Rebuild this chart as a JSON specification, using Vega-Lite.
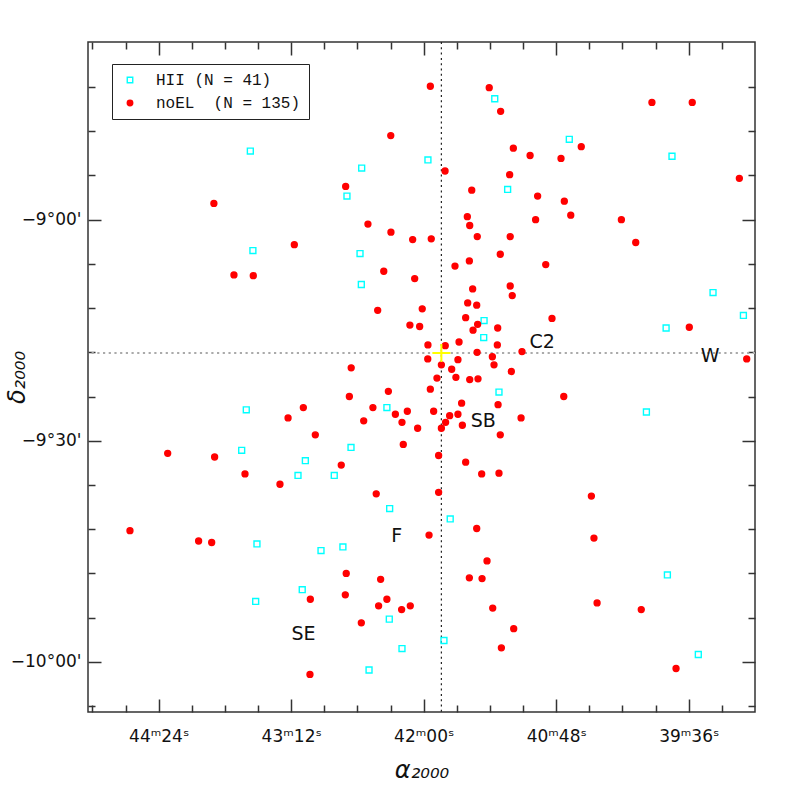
{
  "$schema": "https://vega.github.io/schema/vega-lite/v6.json",
  "width": 667,
  "height": 670,
  "autosize": {"type": "none"},
  "padding": {"left": 88, "top": 42, "right": 42, "bottom": 85},
  "background": "white",
  "config": {
    "view": {"stroke": "#333", "strokeWidth": 1.5},
    "axis": {"grid": false, "domain": false, "labelFont": "DejaVu Sans", "labelFontSize": 17, "labelColor": "#111", "tickColor": "#333", "tickWidth": 1.5, "titleColor": "#111"}
  },
  "resolve": {"axis": {"x": "independent", "y": "independent"}},
  "layer": [
    {
      "data": {"values": [{"ra": 2510.4}]},
      "mark": {"type": "rule", "color": "#222", "strokeWidth": 1.2, "strokeDash": [2, 3.3]},
      "encoding": {
        "x": {"field": "ra", "type": "quantitative", "scale": {"domain": [2340, 2702.4], "reverse": true, "nice": false, "zero": false},
          "axis": {"orient": "bottom", "values": [2358, 2394, 2412, 2430, 2466, 2484, 2502, 2538, 2556, 2574, 2610, 2628, 2646, 2682, 2700], "labels": false, "tickSize": -7, "title": null}}
      }
    },
    {
      "data": {"values": [{"dec": -558.1}]},
      "mark": {"type": "rule", "color": "#aaa", "strokeWidth": 2, "strokeDash": [2.2, 3.5]},
      "encoding": {
        "y": {"field": "dec", "type": "quantitative", "scale": {"domain": [-606.8, -515.9], "nice": false, "zero": false},
          "axis": {"orient": "left", "values": [-522, -528, -534, -546, -552, -558, -564, -576, -582, -588, -594, -606], "labels": false, "tickSize": -7, "title": null}}
      }
    },
    {
      "data": {"values": [
        {"class":"HII","ra":2614.2,"dec":-530.7},{"class":"HII","ra":2612.8,"dec":-544.2},{"class":"HII","ra":2481.4,"dec":-523.6},{"class":"HII","ra":2517.7,"dec":-531.9},
        {"class":"HII","ra":2553.7,"dec":-533.0},{"class":"HII","ra":2474.4,"dec":-535.9},{"class":"HII","ra":2561.7,"dec":-536.8},{"class":"HII","ra":2554.6,"dec":-544.6},
        {"class":"HII","ra":2440.9,"dec":-529.1},{"class":"HII","ra":2385.1,"dec":-531.4},{"class":"HII","ra":2616.4,"dec":-565.8},{"class":"HII","ra":2618.9,"dec":-571.3},
        {"class":"HII","ra":2584.3,"dec":-572.7},{"class":"HII","ra":2588.3,"dec":-574.7},{"class":"HII","ra":2553.9,"dec":-548.8},{"class":"HII","ra":2487.2,"dec":-553.7},
        {"class":"HII","ra":2487.4,"dec":-556.0},{"class":"HII","ra":2479.1,"dec":-563.4},{"class":"HII","ra":2540.0,"dec":-565.5},{"class":"HII","ra":2559.5,"dec":-570.9},
        {"class":"HII","ra":2568.6,"dec":-574.7},{"class":"HII","ra":2362.8,"dec":-549.9},{"class":"HII","ra":2346.3,"dec":-553.0},{"class":"HII","ra":2388.3,"dec":-554.7},
        {"class":"HII","ra":2399.0,"dec":-566.1},{"class":"HII","ra":2610.6,"dec":-584.0},{"class":"HII","ra":2586.0,"dec":-590.2},{"class":"HII","ra":2611.3,"dec":-591.8},
        {"class":"HII","ra":2538.5,"dec":-579.2},{"class":"HII","ra":2505.6,"dec":-580.6},{"class":"HII","ra":2575.8,"dec":-584.9},{"class":"HII","ra":2563.9,"dec":-584.4},
        {"class":"HII","ra":2538.7,"dec":-594.2},{"class":"HII","ra":2509.0,"dec":-597.1},{"class":"HII","ra":2531.8,"dec":-598.2},{"class":"HII","ra":2549.7,"dec":-601.1},
        {"class":"HII","ra":2387.6,"dec":-588.2},{"class":"HII","ra":2370.8,"dec":-599.0},
        {"class":"noEL","ra":2634.0,"dec":-537.8},{"class":"noEL","ra":2590.3,"dec":-543.4},{"class":"noEL","ra":2516.4,"dec":-521.9},{"class":"noEL","ra":2484.4,"dec":-522.1},
        {"class":"noEL","ra":2478.2,"dec":-525.3},{"class":"noEL","ra":2537.9,"dec":-528.6},{"class":"noEL","ra":2471.3,"dec":-530.3},{"class":"noEL","ra":2462.2,"dec":-531.3},
        {"class":"noEL","ra":2508.4,"dec":-533.4},{"class":"noEL","ra":2473.3,"dec":-533.9},{"class":"noEL","ra":2562.4,"dec":-535.5},{"class":"noEL","ra":2493.9,"dec":-536.0},
        {"class":"noEL","ra":2496.3,"dec":-539.6},{"class":"noEL","ra":2495.0,"dec":-540.8},{"class":"noEL","ra":2550.3,"dec":-540.6},{"class":"noEL","ra":2537.8,"dec":-541.7},
        {"class":"noEL","ra":2526.0,"dec":-542.7},{"class":"noEL","ra":2515.9,"dec":-542.6},{"class":"noEL","ra":2490.9,"dec":-542.3},{"class":"noEL","ra":2473.0,"dec":-542.3},
        {"class":"noEL","ra":2478.4,"dec":-544.7},{"class":"noEL","ra":2495.2,"dec":-545.6},{"class":"noEL","ra":2503.0,"dec":-546.3},{"class":"noEL","ra":2541.7,"dec":-547.0},
        {"class":"noEL","ra":2396.0,"dec":-524.1},{"class":"noEL","ra":2374.1,"dec":-524.1},{"class":"noEL","ra":2434.4,"dec":-530.1},{"class":"noEL","ra":2445.4,"dec":-531.7},
        {"class":"noEL","ra":2348.5,"dec":-534.4},{"class":"noEL","ra":2458.1,"dec":-536.8},{"class":"noEL","ra":2443.6,"dec":-537.5},{"class":"noEL","ra":2440.1,"dec":-539.4},
        {"class":"noEL","ra":2459.2,"dec":-540.0},{"class":"noEL","ra":2412.6,"dec":-540.0},{"class":"noEL","ra":2404.8,"dec":-543.1},{"class":"noEL","ra":2453.7,"dec":-546.1},
        {"class":"noEL","ra":2623.1,"dec":-547.5},{"class":"noEL","ra":2612.6,"dec":-547.6},{"class":"noEL","ra":2585.4,"dec":-565.5},{"class":"noEL","ra":2593.7,"dec":-566.9},
        {"class":"noEL","ra":2659.1,"dec":-571.7},{"class":"noEL","ra":2633.6,"dec":-572.2},{"class":"noEL","ra":2617.1,"dec":-574.5},{"class":"noEL","ra":2598.1,"dec":-575.9},
        {"class":"noEL","ra":2524.9,"dec":-548.0},{"class":"noEL","ra":2493.4,"dec":-549.4},{"class":"noEL","ra":2473.0,"dec":-549.0},{"class":"noEL","ra":2471.9,"dec":-550.3},
        {"class":"noEL","ra":2496.1,"dec":-551.3},{"class":"noEL","ra":2491.2,"dec":-551.6},{"class":"noEL","ra":2545.0,"dec":-552.3},{"class":"noEL","ra":2520.8,"dec":-552.1},
        {"class":"noEL","ra":2497.2,"dec":-553.3},{"class":"noEL","ra":2490.7,"dec":-554.2},{"class":"noEL","ra":2479.8,"dec":-554.7},{"class":"noEL","ra":2493.2,"dec":-555.0},
        {"class":"noEL","ra":2527.5,"dec":-554.3},{"class":"noEL","ra":2522.2,"dec":-554.5},{"class":"noEL","ra":2500.8,"dec":-556.6},{"class":"noEL","ra":2517.7,"dec":-557.0},
        {"class":"noEL","ra":2508.3,"dec":-557.1},{"class":"noEL","ra":2480.0,"dec":-557.0},{"class":"noEL","ra":2466.6,"dec":-557.9},{"class":"noEL","ra":2491.0,"dec":-558.0},
        {"class":"noEL","ra":2482.7,"dec":-558.6},{"class":"noEL","ra":2517.8,"dec":-558.9},{"class":"noEL","ra":2501.4,"dec":-559.0},{"class":"noEL","ra":2481.8,"dec":-559.7},
        {"class":"noEL","ra":2510.4,"dec":-559.7},{"class":"noEL","ra":2504.8,"dec":-560.3},{"class":"noEL","ra":2559.4,"dec":-560.1},{"class":"noEL","ra":2472.4,"dec":-560.6},
        {"class":"noEL","ra":2512.8,"dec":-561.5},{"class":"noEL","ra":2502.5,"dec":-561.4},{"class":"noEL","ra":2495.0,"dec":-561.7},{"class":"noEL","ra":2490.5,"dec":-561.6},
        {"class":"noEL","ra":2516.4,"dec":-563.0},{"class":"noEL","ra":2539.2,"dec":-563.3},{"class":"noEL","ra":2560.4,"dec":-564.0},{"class":"noEL","ra":2499.4,"dec":-564.9},
        {"class":"noEL","ra":2479.6,"dec":-565.1},{"class":"noEL","ra":2547.6,"dec":-565.5},{"class":"noEL","ra":2528.9,"dec":-566.0},{"class":"noEL","ra":2535.4,"dec":-566.4},
        {"class":"noEL","ra":2514.6,"dec":-566.0},{"class":"noEL","ra":2501.4,"dec":-566.4},{"class":"noEL","ra":2505.9,"dec":-566.6},{"class":"noEL","ra":2552.6,"dec":-567.3},
        {"class":"noEL","ra":2531.8,"dec":-567.5},{"class":"noEL","ra":2508.1,"dec":-567.5},{"class":"noEL","ra":2499.0,"dec":-567.9},{"class":"noEL","ra":2467.1,"dec":-566.9},
        {"class":"noEL","ra":2523.3,"dec":-568.3},{"class":"noEL","ra":2510.4,"dec":-568.3},{"class":"noEL","ra":2578.9,"dec":-569.2},{"class":"noEL","ra":2478.4,"dec":-569.2},
        {"class":"noEL","ra":2531.1,"dec":-570.5},{"class":"noEL","ra":2564.8,"dec":-573.3},{"class":"noEL","ra":2511.9,"dec":-572.0},{"class":"noEL","ra":2497.2,"dec":-572.9},
        {"class":"noEL","ra":2488.5,"dec":-574.5},{"class":"noEL","ra":2479.1,"dec":-574.4},{"class":"noEL","ra":2545.8,"dec":-577.2},{"class":"noEL","ra":2511.9,"dec":-577.0},
        {"class":"noEL","ra":2450.3,"dec":-553.4},{"class":"noEL","ra":2375.7,"dec":-554.6},{"class":"noEL","ra":2344.5,"dec":-558.9},{"class":"noEL","ra":2443.9,"dec":-564.0},
        {"class":"noEL","ra":2428.9,"dec":-577.5},{"class":"noEL","ra":2679.6,"dec":-582.2},{"class":"noEL","ra":2642.3,"dec":-583.6},{"class":"noEL","ra":2635.2,"dec":-583.8},
        {"class":"noEL","ra":2581.6,"dec":-591.5},{"class":"noEL","ra":2581.8,"dec":-601.7},{"class":"noEL","ra":2491.2,"dec":-581.9},{"class":"noEL","ra":2517.1,"dec":-582.8},
        {"class":"noEL","ra":2485.6,"dec":-586.3},{"class":"noEL","ra":2562.1,"dec":-588.0},{"class":"noEL","ra":2543.4,"dec":-588.8},{"class":"noEL","ra":2495.2,"dec":-588.6},
        {"class":"noEL","ra":2488.3,"dec":-588.7},{"class":"noEL","ra":2562.6,"dec":-590.9},{"class":"noEL","ra":2540.0,"dec":-591.5},{"class":"noEL","ra":2544.5,"dec":-592.4},
        {"class":"noEL","ra":2532.0,"dec":-592.9},{"class":"noEL","ra":2527.3,"dec":-592.4},{"class":"noEL","ra":2482.5,"dec":-592.7},{"class":"noEL","ra":2553.9,"dec":-594.7},
        {"class":"noEL","ra":2471.1,"dec":-595.5},{"class":"noEL","ra":2477.8,"dec":-598.1},{"class":"noEL","ra":2427.5,"dec":-583.2},{"class":"noEL","ra":2425.8,"dec":-592.0},
        {"class":"noEL","ra":2401.8,"dec":-592.9},{"class":"noEL","ra":2382.9,"dec":-600.9}
      ]},
      "mark": {"type": "point", "opacity": 1, "size": 35, "strokeWidth": 1.4},
      "encoding": {
        "x": {"field": "ra", "type": "quantitative", "scale": {"domain": [2340, 2702.4], "reverse": true, "nice": false, "zero": false},
          "axis": {"orient": "bottom", "values": [2376, 2448, 2520, 2592, 2664], "tickSize": -13, "labelPadding": 29.6,
            "labelExpr": "floor(datum.value/60) + 'ᵐ' + (datum.value % 60 < 10 ? '0' : '') + (datum.value % 60) + 'ˢ'",
            "title": "α₂₀₀₀", "titleFont": "DejaVu Sans", "titleFontSize": 24, "titleFontStyle": "italic", "titleFontWeight": "normal", "titlePadding": 14}},
        "y": {"field": "dec", "type": "quantitative", "scale": {"domain": [-606.8, -515.9], "nice": false, "zero": false},
          "axis": {"orient": "left", "values": [-600, -570, -540], "tickSize": -13, "labelPadding": 20,
            "labelExpr": "datum.value == -540 ? \"−9°00'\" : datum.value == -570 ? \"−9°30'\" : \"−10°00'\"",
            "title": "δ₂₀₀₀", "titleFont": "DejaVu Sans", "titleFontSize": 24, "titleFontStyle": "italic", "titleFontWeight": "normal", "titlePadding": -19}},
        "shape": {"field": "class", "type": "nominal", "scale": {"domain": ["HII", "noEL"], "range": ["square", "circle"]},
          "legend": {"title": null, "orient": "none", "legendX": 24, "legendY": 22, "strokeColor": "#222", "fillColor": "white", "padding": 8,
            "labelFont": "Liberation Mono", "labelFontSize": 16, "labelColor": "#111", "rowPadding": 7, "labelOffset": 18, "symbolOffset": 2, "symbolSize": 30, "symbolStrokeWidth": 1.4,
            "labelExpr": "datum.label == 'HII' ? 'HII (N = 41)' : 'noEL\u00a0\u00a0(N = 135)\u00a0'"}},
        "stroke": {"field": "class", "type": "nominal", "scale": {"domain": ["HII", "noEL"], "range": ["#00ffff", "#ff0000"]},
          "legend": {"title": null, "orient": "none", "legendX": 24, "legendY": 22, "strokeColor": "#222", "fillColor": "white", "padding": 8,
            "labelFont": "Liberation Mono", "labelFontSize": 16, "labelColor": "#111", "rowPadding": 7, "labelOffset": 18, "symbolOffset": 2, "symbolSize": 30, "symbolStrokeWidth": 1.4,
            "labelExpr": "datum.label == 'HII' ? 'HII (N = 41)' : 'noEL\u00a0\u00a0(N = 135)\u00a0'"}},
        "fill": {"field": "class", "type": "nominal", "scale": {"domain": ["HII", "noEL"], "range": ["transparent", "#ff0000"]},
          "legend": {"title": null, "orient": "none", "legendX": 24, "legendY": 22, "strokeColor": "#222", "fillColor": "white", "padding": 8,
            "labelFont": "Liberation Mono", "labelFontSize": 16, "labelColor": "#111", "rowPadding": 7, "labelOffset": 18, "symbolOffset": 2, "symbolSize": 30, "symbolStrokeWidth": 1.4,
            "labelExpr": "datum.label == 'HII' ? 'HII (N = 41)' : 'noEL\u00a0\u00a0(N = 135)\u00a0'"}}
      }
    },
    {
      "data": {"values": [{"ra": 2510.4, "dec": -558.1}]},
      "mark": {"type": "point", "shape": "M-1,0H1M0,-1V1", "size": 324, "stroke": "#ffff00", "strokeWidth": 2, "opacity": 1, "filled": false},
      "encoding": {
        "x": {"field": "ra", "type": "quantitative", "scale": {"domain": [2340, 2702.4], "reverse": true, "nice": false, "zero": false},
          "axis": {"orient": "top", "values": [2376, 2448, 2520, 2592, 2664], "labels": false, "tickSize": -13, "title": null}},
        "y": {"field": "dec", "type": "quantitative", "scale": {"domain": [-606.8, -515.9], "nice": false, "zero": false},
          "axis": {"orient": "right", "values": [-600, -570, -540], "labels": false, "tickSize": -13, "title": null}}
      }
    },
    {
      "data": {"values": [
        {"name": "C2", "ra": 2455.6, "dec": -556.6},
        {"name": "W", "ra": 2364.4, "dec": -558.5},
        {"name": "SB", "ra": 2487.6, "dec": -567.3},
        {"name": "F", "ra": 2534.7, "dec": -582.9},
        {"name": "SE", "ra": 2585.3, "dec": -596.2}
      ]},
      "mark": {"type": "text", "font": "DejaVu Sans", "fontSize": 19, "color": "#111", "align": "center", "baseline": "middle"},
      "encoding": {
        "x": {"field": "ra", "type": "quantitative", "scale": {"domain": [2340, 2702.4], "reverse": true, "nice": false, "zero": false},
          "axis": {"orient": "top", "values": [2358, 2394, 2412, 2430, 2466, 2484, 2502, 2538, 2556, 2574, 2610, 2628, 2646, 2682, 2700], "labels": false, "tickSize": -7, "title": null}},
        "y": {"field": "dec", "type": "quantitative", "scale": {"domain": [-606.8, -515.9], "nice": false, "zero": false},
          "axis": {"orient": "right", "values": [-522, -528, -534, -546, -552, -558, -564, -576, -582, -588, -594, -606], "labels": false, "tickSize": -7, "title": null}},
        "text": {"field": "name"}
      }
    }
  ]
}
